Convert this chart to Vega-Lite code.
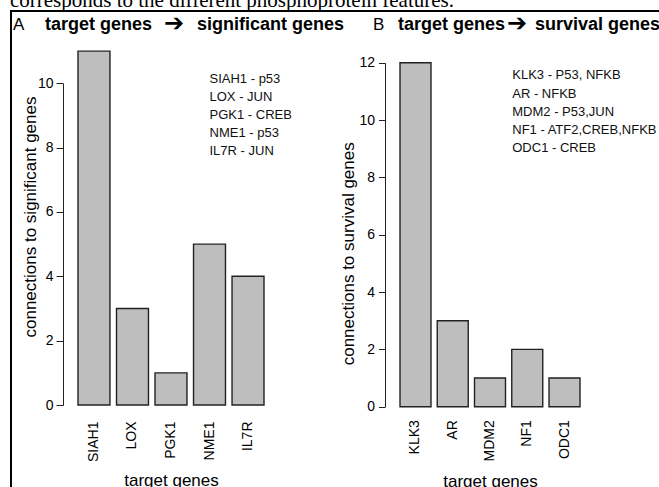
{
  "$schema": "https://vega.github.io/schema/vega-lite/v6.json",
  "autosize": "none",
  "width": 650,
  "height": 478,
  "padding": {"left": 11, "top": 11, "right": 0, "bottom": 0},
  "background": "white",
  "config": {
    "view": {"stroke": "black", "strokeWidth": 2},
    "font": "Liberation Sans",
    "axis": {"labelFont": "Liberation Sans", "titleFont": "Liberation Sans", "labelColor": "black", "titleColor": "black", "domainColor": "#222", "tickColor": "#222", "grid": false}
  },
  "layer": [
    {
      "layer": [
        {
          "data": {"values": [
            {"gene": "SIAH1", "connections": 11},
            {"gene": "LOX", "connections": 3},
            {"gene": "PGK1", "connections": 1},
            {"gene": "NME1", "connections": 5},
            {"gene": "IL7R", "connections": 4}
          ]},
          "mark": {"type": "bar", "fill": "#bebebe", "stroke": "#222", "strokeWidth": 1.4},
          "encoding": {
            "x": {"field": "gene", "type": "nominal", "sort": null,
              "scale": {"range": [67, 253], "paddingInner": 0.17, "paddingOuter": 0},
              "axis": {"orient": "bottom", "offset": -84, "domain": false, "ticks": false, "labelAngle": -90, "labelAlign": "right", "labelBaseline": "middle", "labelPadding": 16, "labelFontSize": 14, "title": "target genes", "titleFontSize": 17, "titleFontWeight": "normal", "titleY": 80.5, "titleBaseline": "alphabetic"}},
            "y": {"field": "connections", "type": "quantitative",
              "scale": {"domain": [0, 10], "range": [394, 72.3], "nice": false},
              "axis": {"orient": "left", "offset": -52, "values": [0, 2, 4, 6, 8, 10], "tickSize": 7, "labelPadding": 3, "labelFontSize": 14, "title": "connections to significant genes", "titleFontSize": 17, "titleFontWeight": "normal", "titleAngle": -90, "titleX": -28, "titleY": 205.5, "titleAlign": "center", "titleBaseline": "alphabetic"}}
          }
        },
        {
          "data": {"values": [{"caption": "corresponds to the different phosphoprotein features."}]},
          "mark": {"type": "text", "align": "left", "baseline": "alphabetic", "font": "Liberation Serif", "fontSize": 21, "dx": -84, "color": "black"},
          "encoding": {"x": {"datum": "SIAH1"}, "y": {"datum": 12.37}, "text": {"field": "caption", "type": "nominal"}}
        },
        {
          "data": {"values": [{"lines": ["SIAH1 - p53", "LOX - JUN", "PGK1 - CREB", "NME1 - p53", "IL7R - JUN"]}]},
          "mark": {"type": "text", "align": "left", "baseline": "alphabetic", "fontSize": 13, "lineHeight": 18, "color": "#111"},
          "encoding": {"x": {"datum": "NME1"}, "y": {"datum": 10}, "text": {"field": "lines", "type": "nominal"}}
        },
        {
          "data": {"values": [{"panel": "A"}]},
          "mark": {"type": "text", "align": "left", "baseline": "alphabetic", "fontSize": 17, "dx": -81, "color": "black"},
          "encoding": {"x": {"datum": "SIAH1"}, "y": {"datum": 11.65}, "text": {"field": "panel", "type": "nominal"}}
        },
        {
          "data": {"values": [{"header": "target genes"}]},
          "mark": {"type": "text", "align": "left", "baseline": "alphabetic", "fontSize": 18, "fontWeight": "bold", "dx": -49, "color": "black"},
          "encoding": {"x": {"datum": "SIAH1"}, "y": {"datum": 11.65}, "text": {"field": "header", "type": "nominal"}}
        },
        {
          "data": {"values": [{"header": "➔"}]},
          "mark": {"type": "text", "align": "left", "baseline": "alphabetic", "font": "DejaVu Sans", "fontSize": 24, "dx": 70, "dy": 1, "color": "black"},
          "encoding": {"x": {"datum": "SIAH1"}, "y": {"datum": 11.65}, "text": {"field": "header", "type": "nominal"}}
        },
        {
          "data": {"values": [{"header": "significant genes"}]},
          "mark": {"type": "text", "align": "left", "baseline": "alphabetic", "fontSize": 18, "fontWeight": "bold", "dx": 103, "color": "black"},
          "encoding": {"x": {"datum": "SIAH1"}, "y": {"datum": 11.65}, "text": {"field": "header", "type": "nominal"}}
        }
      ]
    },
    {
      "layer": [
        {
          "data": {"values": [
            {"gene": "KLK3", "connections": 12},
            {"gene": "AR", "connections": 3},
            {"gene": "MDM2", "connections": 1},
            {"gene": "NF1", "connections": 2},
            {"gene": "ODC1", "connections": 1}
          ]},
          "mark": {"type": "bar", "fill": "#bebebe", "stroke": "#222", "strokeWidth": 1.4},
          "encoding": {
            "x": {"field": "gene", "type": "nominal", "sort": null,
              "scale": {"range": [389, 569], "paddingInner": 0.168, "paddingOuter": 0},
              "axis": {"orient": "bottom", "offset": -82.3, "domain": false, "ticks": false, "labelAngle": -90, "labelAlign": "right", "labelBaseline": "middle", "labelPadding": 13, "labelFontSize": 14, "title": "target genes", "titleFontSize": 17, "titleFontWeight": "normal", "titleY": 80, "titleBaseline": "alphabetic"}},
            "y": {"field": "connections", "type": "quantitative",
              "scale": {"domain": [0, 12], "range": [395.7, 51.7], "nice": false},
              "axis": {"orient": "left", "offset": -374, "values": [0, 2, 4, 6, 8, 10, 12], "tickSize": 6.5, "labelPadding": 4, "labelFontSize": 14, "title": "connections to survival genes", "titleFontSize": 17, "titleFontWeight": "normal", "titleAngle": -90, "titleX": -31.7, "titleY": 242.3, "titleAlign": "center", "titleBaseline": "alphabetic"}}
          }
        },
        {
          "data": {"values": [{"lines": ["KLK3 - P53, NFKB", "AR - NFKB", "MDM2 - P53,JUN", "NF1 - ATF2,CREB,NFKB", "ODC1 - CREB"]}]},
          "mark": {"type": "text", "align": "left", "baseline": "alphabetic", "fontSize": 13, "lineHeight": 18.2, "dx": -15, "color": "#111"},
          "encoding": {"x": {"datum": "NF1"}, "y": {"datum": 11.42}, "text": {"field": "lines", "type": "nominal"}}
        },
        {
          "data": {"values": [{"panel": "B"}]},
          "mark": {"type": "text", "align": "left", "baseline": "alphabetic", "fontSize": 17, "dx": -42.5, "color": "black"},
          "encoding": {"x": {"datum": "KLK3"}, "y": {"datum": 13.14}, "text": {"field": "panel", "type": "nominal"}}
        },
        {
          "data": {"values": [{"header": "target genes"}]},
          "mark": {"type": "text", "align": "left", "baseline": "alphabetic", "fontSize": 18, "fontWeight": "bold", "dx": -17.5, "color": "black"},
          "encoding": {"x": {"datum": "KLK3"}, "y": {"datum": 13.14}, "text": {"field": "header", "type": "nominal"}}
        },
        {
          "data": {"values": [{"header": "➔"}]},
          "mark": {"type": "text", "align": "left", "baseline": "alphabetic", "font": "DejaVu Sans", "fontSize": 24, "dx": 91.5, "dy": 1, "color": "black"},
          "encoding": {"x": {"datum": "KLK3"}, "y": {"datum": 13.14}, "text": {"field": "header", "type": "nominal"}}
        },
        {
          "data": {"values": [{"header": "survival genes"}]},
          "mark": {"type": "text", "align": "left", "baseline": "alphabetic", "fontSize": 18, "fontWeight": "bold", "dx": 119.5, "color": "black"},
          "encoding": {"x": {"datum": "KLK3"}, "y": {"datum": 13.14}, "text": {"field": "header", "type": "nominal"}}
        }
      ]
    }
  ],
  "resolve": {"scale": {"x": "independent", "y": "independent"}}
}
